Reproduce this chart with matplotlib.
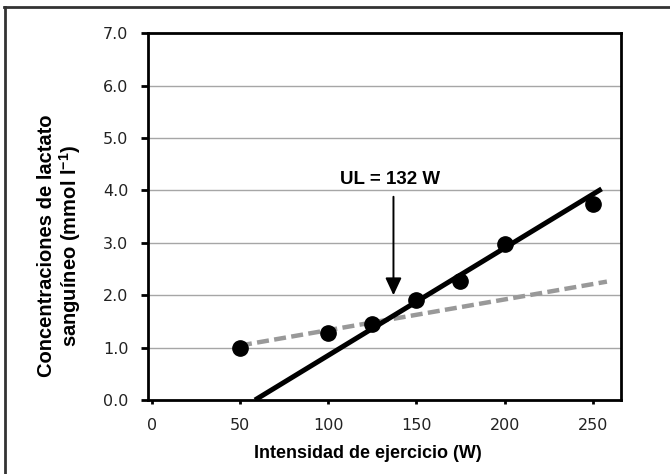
import matplotlib
matplotlib.use("Agg")
import matplotlib.pyplot as plt
from matplotlib.lines import Line2D

# blood lactate per exercise step
watts = [50, 100, 125, 150, 175, 200, 250]
lactate = [1.0, 1.27, 1.45, 1.9, 2.27, 2.97, 3.75]

# fitted lines (end points)
steep_x = [58.5, 255]
steep_y = [0.0, 4.03]
shallow_x = [50, 258]
shallow_y = [1.04, 2.26]

ul_watts = 137
ul_label = "UL = 132 W"

y_ticks = [0, 1, 2, 3, 4, 5, 6, 7]
x_ticks = [0, 50, 100, 150, 200, 250]

label_font = "Liberation Sans"

plt.rcParams["mathtext.fontset"] = "custom"
plt.rcParams["mathtext.rm"] = label_font + ":bold"
plt.rcParams["mathtext.bf"] = label_font + ":bold"

fig = plt.figure(figsize=(6.7, 4.74), dpi=100)
ax = fig.add_axes([0.2205, 0.1561, 0.7064, 0.7736])

ax.set_xlim(-2.3, 266)
ax.set_ylim(0, 7)

for v in y_ticks[1:-1]:
    ax.axhline(v, color="#a6a6a6", lw=1.0, zorder=1)

ax.plot(shallow_x, shallow_y, color="#999999", lw=3.2, dashes=(2.7, 1.2), zorder=2)
ax.plot(steep_x, steep_y, color="black", lw=3.6, solid_capstyle="butt", zorder=3)
ax.plot(watts, lactate, "o", color="black", ms=11, zorder=4)

ax.annotate("", xy=(ul_watts, 2.0), xytext=(ul_watts, 3.88),
            arrowprops=dict(arrowstyle="-|>,head_length=0.75,head_width=0.35",
                            color="black", lw=1.4, mutation_scale=14,
                            shrinkA=0, shrinkB=0), zorder=5)
ax.text(ul_watts - 2, 4.2, ul_label, ha="center", va="center",
        fontsize=13.5, fontweight="bold", family=label_font)

for s in ax.spines.values():
    s.set_linewidth(2.0)
    s.set_color("black")

ax.set_yticks(y_ticks)
ax.set_yticklabels([f"{v:.1f}" for v in y_ticks])
ax.set_xticks(x_ticks)
ax.tick_params(axis="y", direction="out", length=5, width=2, pad=9, labelsize=11.5)
ax.tick_params(axis="x", direction="out", length=3, width=2, pad=10, labelsize=11.5)
for t in ax.get_xticklabels() + ax.get_yticklabels():
    t.set_color("#222222")

fig.text(368 / 670, 1 - 453 / 474, "Intensidad de ejercicio (W)",
         ha="center", va="center", fontsize=13, fontweight="bold",
         family=label_font)
fig.text(60 / 670, 1 - 246 / 474,
         "Concentraciones de lactato\nsanguíneo (mmol l$^{-1}$)",
         ha="center", va="center", rotation=90, multialignment="center",
         fontsize=14.5, fontweight="bold", family=label_font,
         linespacing=1.05)

# frame along the top and left edge
fig.add_artist(Line2D([4 / 670, 1], [1 - 6.5 / 474] * 2, color="#333333", lw=2))
fig.add_artist(Line2D([5 / 670] * 2, [0, 1 - 6.5 / 474], color="#333333", lw=2))

fig.savefig("out.png", dpi=100)
